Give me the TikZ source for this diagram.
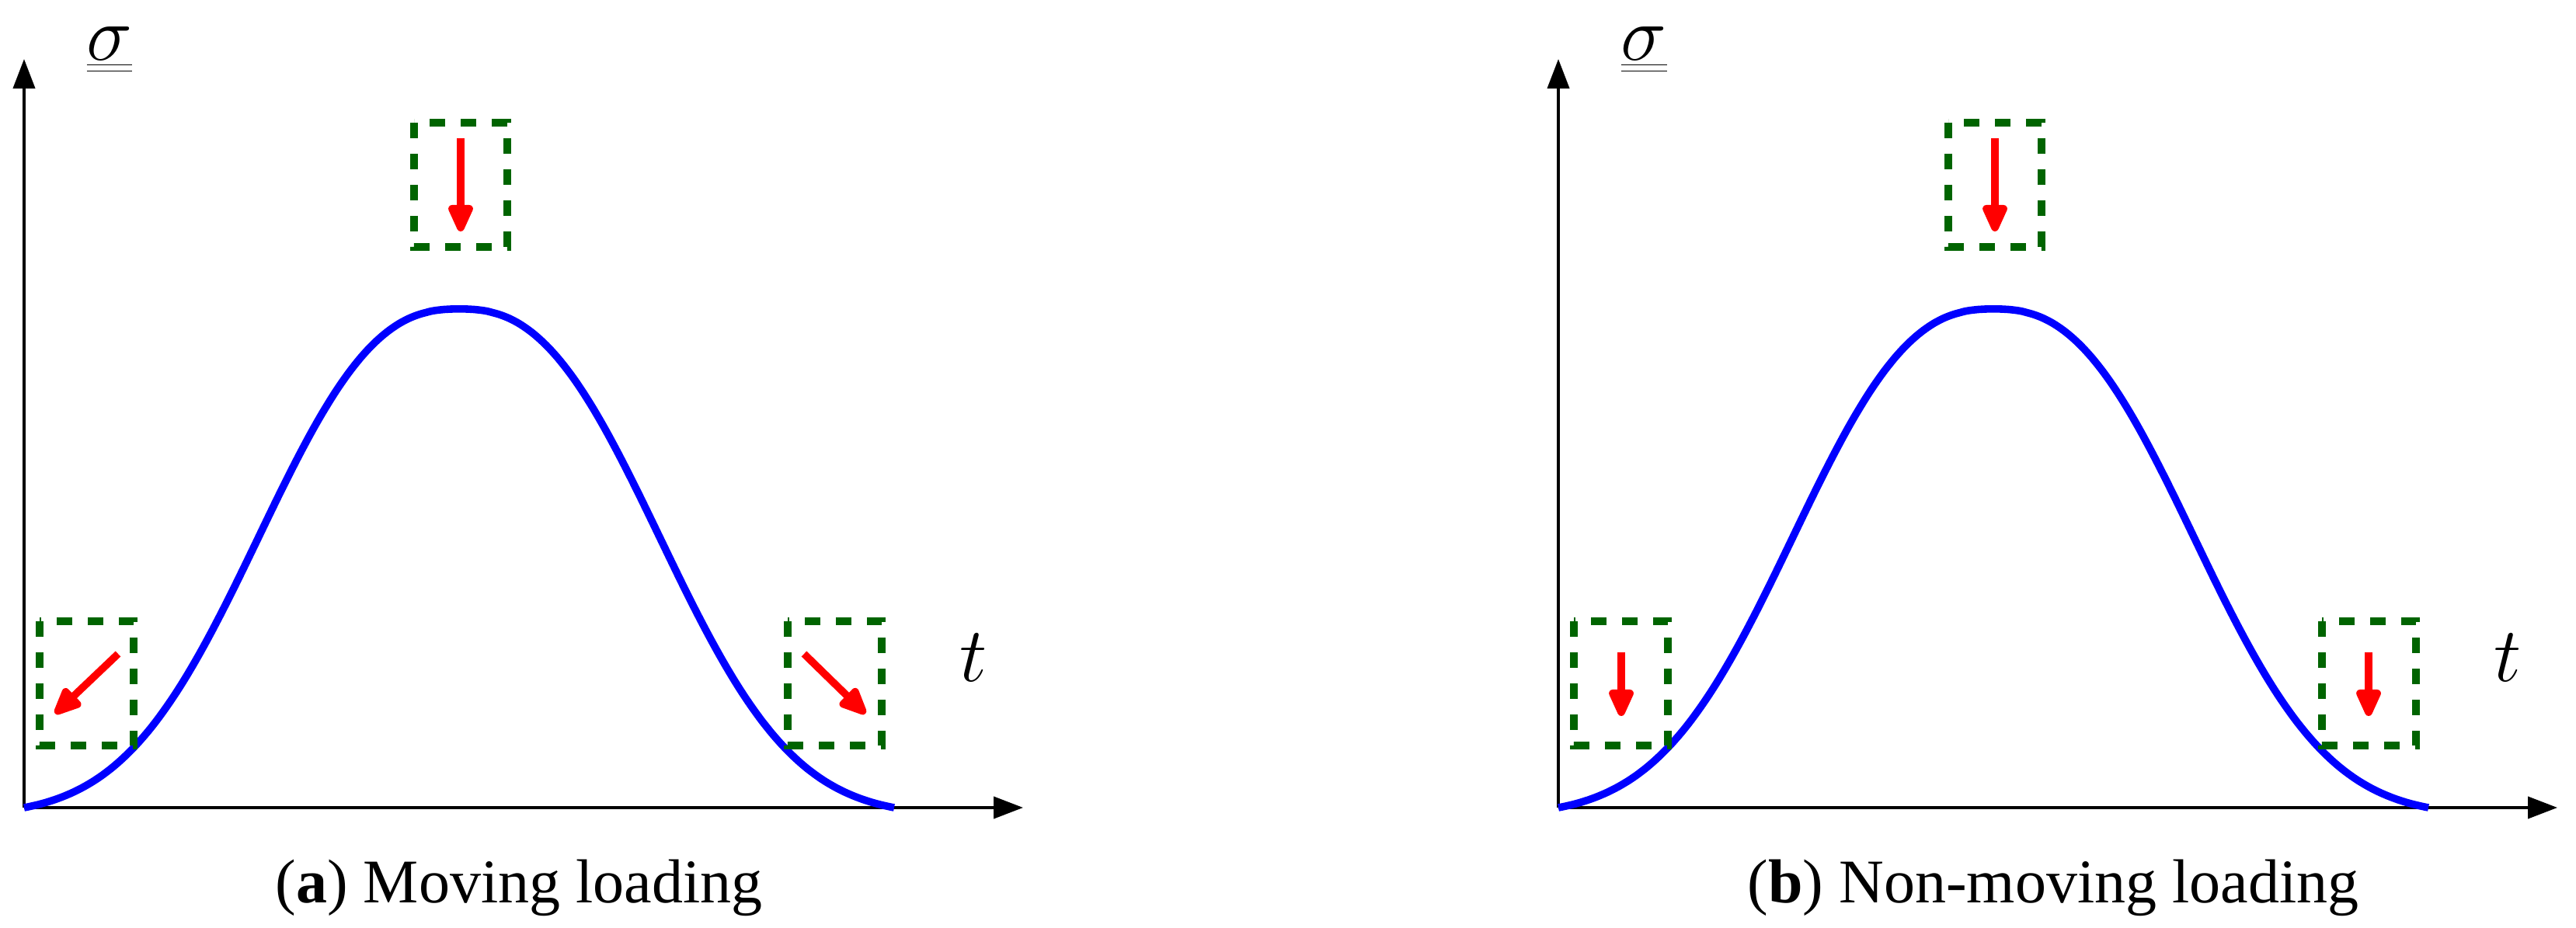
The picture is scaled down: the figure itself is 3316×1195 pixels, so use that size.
\documentclass[tikz,border=0pt]{standalone}
\usepackage{fontspec}
\newfontfamily\capfont{Liberation Serif}
\usetikzlibrary{arrows.meta}
\definecolor{boxgreen}{RGB}{0,100,0}
\tikzset{
  axis/.style={line width=1pt, -{Triangle[length=9.5pt,width=7pt]}},
  curve/.style={line width=2.4pt, draw={rgb,255:red,0;green,0;blue,255}},
  hbox/.style={draw=boxgreen, line width=2.3pt, dash pattern=on 5pt off 5pt},
  load/.style={draw=red, line width=2.4pt, -{Triangle[length=10.5pt,width=8.5pt,round]}},
  mathlbl/.style={inner sep=0pt, anchor=base, font=\fontsize{27}{32}\selectfont},
  caplbl/.style={inner sep=0pt, anchor=base, font=\capfont\fontsize{20}{24}\selectfont},
  declare function={
    sg(\d)=(exp(-pow(abs(\d)/317+0.00001,2.5))-0.0158)/(1-0.0158);
  }
}
\begin{document}
\begin{tikzpicture}[x=0.25pt,y=-0.25pt]
\useasboundingbox (0,0) rectangle (3316,1195);
% ---------- panel (a)
\begin{scope}
  \coordinate (oA) at (31,1040);
  \coordinate (yA) at (31,76);
  \coordinate (xA) at (1317,1040);
  \draw[axis] (oA) -- (yA);
  \draw[axis] (oA) -- (xA);
  \draw[curve] plot[domain=-560:560, samples=200, smooth] ({591+\x},{1040-642*sg(\x)});
  \draw[hbox] (533,158) -- (533,318) -- (653,318) -- (653,158) -- cycle;
  \draw[hbox] (51,800) -- (51,960) -- (172,960) -- (172,800) -- cycle;
  \draw[hbox] (1014,800) -- (1014,960) -- (1135,960) -- (1135,800) -- cycle;
  \coordinate (a1s) at (593,178); \coordinate (a1e) at (593,298);
  \coordinate (a2s) at (152,842); \coordinate (a2e) at (71,919);
  \coordinate (a3s) at (1035,842); \coordinate (a3e) at (1114,919);
  \draw[load] (a1s) -- (a1e);
  \draw[load] (a2s) -- (a2e);
  \draw[load] (a3s) -- (a3e);
  \node[mathlbl] (sigA) at (141,78) {$\underline{\underline{\sigma}}$};
  \node[mathlbl] (tA) at (1253,878) {$t$};
  \node[caplbl] (capA) at (668,1162) {({\bfseries a}) Moving loading};
\end{scope}
% ---------- panel (b)
\begin{scope}[shift={(1975,0)}]
  \coordinate (oB) at (31,1040);
  \coordinate (yB) at (31,76);
  \coordinate (xB) at (1317,1040);
  \draw[axis] (oB) -- (yB);
  \draw[axis] (oB) -- (xB);
  \draw[curve] plot[domain=-560:560, samples=200, smooth] ({591+\x},{1040-642*sg(\x)});
  \draw[hbox] (533,158) -- (533,318) -- (653,318) -- (653,158) -- cycle;
  \draw[hbox] (51,800) -- (51,960) -- (172,960) -- (172,800) -- cycle;
  \draw[hbox] (1014,800) -- (1014,960) -- (1135,960) -- (1135,800) -- cycle;
  \coordinate (b1s) at (593,178); \coordinate (b1e) at (593,298);
  \coordinate (b2s) at (112,840); \coordinate (b2e) at (112,922);
  \coordinate (b3s) at (1074,840); \coordinate (b3e) at (1074,922);
  \draw[load] (b1s) -- (b1e);
  \draw[load] (b2s) -- (b2e);
  \draw[load] (b3s) -- (b3e);
  \node[mathlbl] (sigB) at (141,78) {$\underline{\underline{\sigma}}$};
  \node[mathlbl] (tB) at (1253,878) {$t$};
  \node[caplbl] (capB) at (668,1162) {({\bfseries b}) Non-moving loading};
\end{scope}
\end{tikzpicture}
\end{document}
